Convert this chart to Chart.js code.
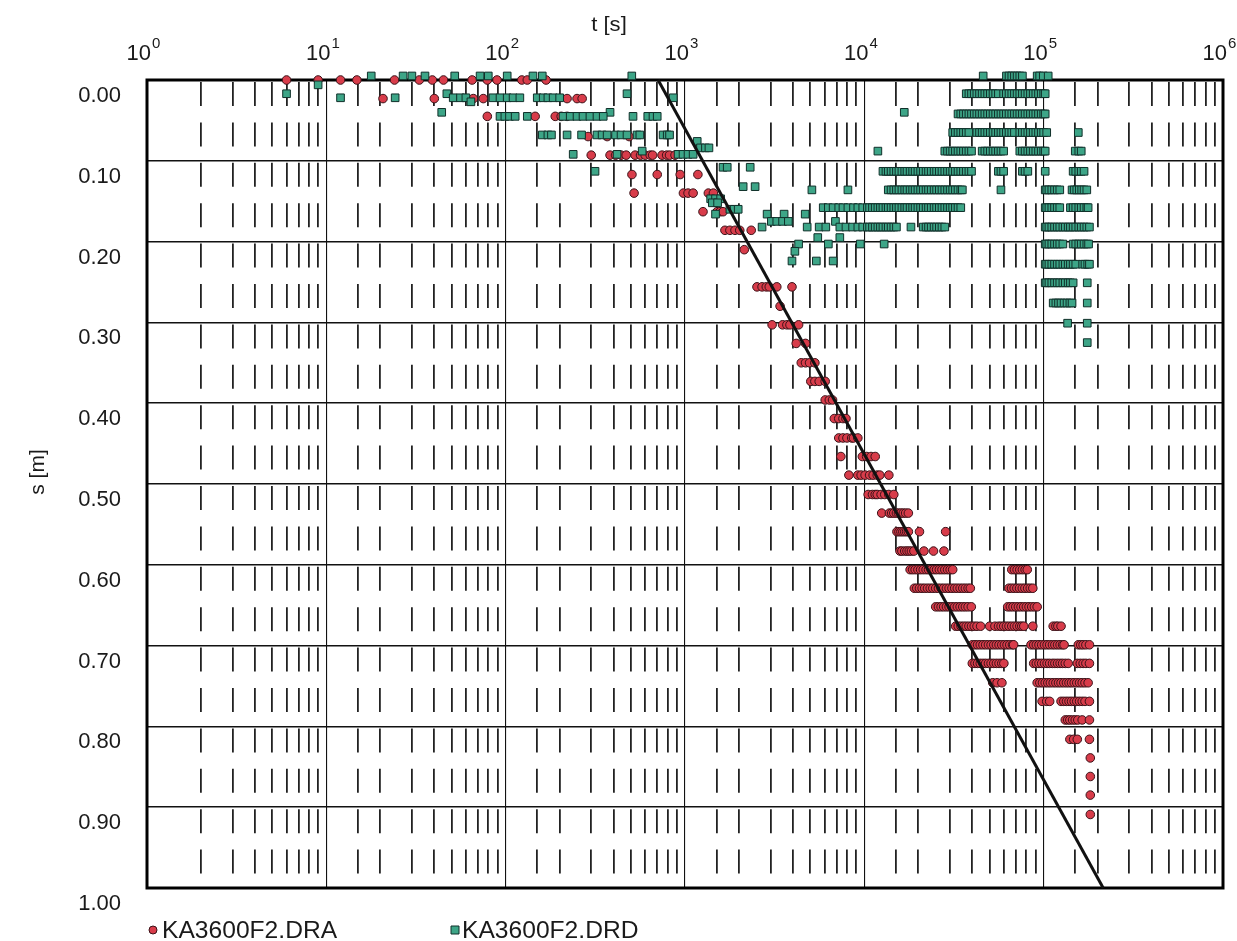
<!DOCTYPE html>
<html>
<head>
<meta charset="utf-8">
<title>KA3600F2 drawdown</title>
<script src="https://cdn.jsdelivr.net/npm/chart.js@4.4.0/dist/chart.umd.min.js"></script>
<style>
  html, body { margin: 0; padding: 0; background: #ffffff; }
  #wrap { width: 1237px; height: 941px; position: relative; }
</style>
</head>
<body>
<div id="wrap"><canvas id="chart"></canvas></div>
<script>
// ---- axis text -------------------------------------------------------
const xTitle = 't [s]';
const yTitle = 's [m]';
const xExponents = [0, 1, 2, 3, 4, 5, 6];
const yTickValues = [0, 0.1, 0.2, 0.3, 0.4, 0.5, 0.6, 0.7, 0.8, 0.9, 1.0];
const yTickLabels = ['0.00', '0.10', '0.20', '0.30', '0.40', '0.50', '0.60', '0.70', '0.80', '0.90', '1.00'];

// ---- straight-line fit (semi-log) -------------------------------------
const fitTime = [708, 214800];
const fitDrawdown = [0, 1];

// ---- KA3600F2.DRA : drawdown levels and the times recorded at each ----
const draLevels = [
  0.000, 0.023, 0.045, 0.070, 0.093, 0.117, 0.140, 0.163, 0.186, 0.210,
  0.256, 0.280, 0.303, 0.326, 0.350, 0.373, 0.396, 0.419, 0.443, 0.466,
  0.489, 0.513, 0.536, 0.559, 0.583, 0.606, 0.629, 0.652, 0.676, 0.699,
  0.722, 0.746, 0.769, 0.792, 0.816, 0.839, 0.862, 0.885, 0.909
];
const draTimes = [
  [6, 9, 12, 14.8, 24, 33, 39, 45, 65, 79, 89.5, 123, 132, 168],
  [20.7, 40, 66, 75, 220, 250, 267],
  [79, 146, 189, 204, 220],
  [288, 368, 488],
  [300, 382, 410, 440, 470, 527, 565, 600, 640, 660, 745, 790, 820, 880],
  [506, 700, 940, 1180],
  [520, 980, 1040, 1110, 1350, 1440],
  [1260, 1510, 1570, 1630],
  [1670, 1780, 1900, 2020, 2340],
  [2140],
  [2520, 2690, 2840, 2950, 3250, 3950],
  [3390],
  [3060, 3500, 3700, 3850, 4300],
  [4170, 4700],
  [4450, 4700, 4950, 5300],
  [5030, 5300, 5600, 6050],
  [6050, 6380, 6650],
  [6800, 7200, 7600, 7900],
  [7200, 7600, 8000, 8500, 8700, 9200],
  [7400, 9750, 10300, 10900, 11500],
  [8200, 9200, 9600, 10100, 10700, 11200, 11800, 12200, 13700],
  [10500, 11100, 11500, 11800, 12400, 13000, 13700, 14600],
  [12500, 13800, 14200, 14600, 15100, 15500, 16000, 16500, 17000, 17600],
  [15200, 15600, 16000, 16400, 16800, 17200, 17600, 20300, 28400],
  [15800, 16200, 16800, 17300, 17800, 18300, 18900, 21500, 24300, 27800],
  [18000, 18600, 19200, 19900, 20600, 21300, 22100, 22800, 23600, 24500, 25300, 26200, 27100, 28100, 29100, 30100, 31100,
   66400, 68700, 71100, 73600, 76100, 78800, 81000],
  [19000, 19600, 20300, 21000, 21700, 22500, 23300, 24100, 25000, 25900, 26800, 27700, 28700, 29700, 30800, 31900, 33000,
   34200, 35400, 36600, 37900, 39000, 64000, 66200, 68500, 70900, 73400, 76000, 78600, 81400, 84200, 87000],
  [25000, 25900, 26800, 27700, 28700, 29700, 30800, 31900, 33000, 34200, 35400, 36600, 37900, 39500,
   63000, 65200, 67500, 69900, 72300, 74800, 77400, 80100, 82900, 85800, 88800, 92000],
  [32300, 33400, 34600, 35800, 37000, 38300, 39600, 41000, 42500, 44500, 50000, 53500,
   56000, 57900, 59900, 62000, 64100, 66400, 68700, 71100, 73600, 75500, 77500, 87000, 113000, 117000, 120000, 125000],
  [40000, 41400, 42800, 44300, 45900, 47500, 49200, 50900, 52700, 54500, 56400, 58400, 60400, 62500, 64700, 67000, 68000,
   85000, 88000, 91000, 94200, 97500, 101000, 104500, 108000, 112000, 115500, 119500, 123500, 127500, 130000,
   156000, 161000, 166000, 172000, 180000],
  [40000, 41400, 42800, 44300, 45900, 47500, 49200, 50900, 52700, 54500, 56400, 58400, 60000,
   88000, 91000, 94200, 97500, 101000, 104500, 108000, 112000, 115500, 119500, 123500, 127500, 132000, 137000,
   154000, 160000, 166000, 172000, 180000],
  [52000, 55000, 58500, 92000, 95200, 98500, 102000, 105500, 109000, 113000, 117000, 121000, 125000, 129500,
   134000, 138500, 143000, 148000, 153000, 158500, 164000, 170000, 177000],
  [98000, 104000, 108000, 125000, 129500, 134000, 138500, 143000, 148000, 153000, 158500, 164000, 170000, 180000],
  [132000, 136000, 140000, 145000, 150000, 155000, 164000, 180000],
  [140000, 147000, 154000, 180000],
  [182000],
  [182000],
  [182000],
  [182000]
];

// ---- KA3600F2.DRD : drawdown levels and the times recorded at each ----
const drdLevels = [
  -0.005, 0.006, 0.017, 0.022, 0.027, 0.040, 0.042, 0.045, 0.065, 0.068,
  0.076, 0.084, 0.088, 0.092, 0.108, 0.113, 0.132, 0.136, 0.147, 0.152,
  0.158, 0.160, 0.166, 0.175, 0.182, 0.195, 0.203, 0.212, 0.224, 0.228,
  0.251, 0.276, 0.301, 0.325
];
const drdTimes = [
  [17.8, 26.8, 30, 35.5, 52, 72, 80, 102, 142, 160, 505, 46000, 62000, 64100, 66400, 68700, 71100, 73600, 76100,
   92000, 95000, 99500, 106000],
  [9],
  [6, 47, 475, 37000, 38300, 39600, 41000, 42400, 43900, 45400, 47000, 48700, 50400, 52200, 54000, 55900,
   59800, 61900, 64100, 66400, 68700, 71100, 73600, 76100, 78800, 81600, 84400, 87400, 90400, 93600, 96900, 100000, 102000],
  [12, 24.2, 51, 56, 60, 85, 93, 102, 110, 120, 150, 162, 172, 184, 200, 860],
  [64],
  [44, 382, 16700],
  [33300, 34500, 35700, 37000, 38300, 39600, 41000, 42400, 43900, 45400, 47000, 48700, 50400, 52200, 54000, 55900,
   57800, 59800, 61900, 64100, 66400, 68700, 71100, 73600, 76100, 78800, 81600, 84400, 87400, 90400, 93600, 96900, 100000, 102000],
  [93, 99, 105, 113, 132, 209, 229, 250, 270, 295, 323, 350, 513, 620, 663, 700],
  [31100, 32200, 33300, 34500, 35700, 37000, 38300, 42400, 43900, 45400, 47000, 48700, 50400, 52200, 54000, 55900,
   57800, 59800, 61900, 64100, 66400, 68700, 73600, 76100, 78800, 81600, 84400, 87400, 90400, 93600, 96900, 100000, 104000, 156000],
  [160, 172, 180, 220, 265, 323, 345, 368, 410, 440, 475, 540, 560, 755, 796, 820],
  [1170],
  [1220, 1300, 1360],
  [577, 11900, 28100, 29100, 30100, 31100, 32200, 33300, 34500, 35700, 37000, 38300, 39600, 45400, 47000, 48700, 50400,
   52200, 54000, 55900, 57800, 59800, 73600, 76100, 78800, 81600, 84400, 87400, 90400, 93600, 96900, 100000, 102000,
   150000, 157000, 162000],
  [238, 418, 915, 975, 1040, 1110],
  [1630, 1720, 2310],
  [315, 12700, 13200, 13600, 14100, 14600, 15100, 15600, 16200, 16800, 17300, 18000, 18600, 19200, 19900, 20600, 21300,
   22100, 22800, 23600, 24500, 25300, 26200, 27100, 28100, 29100, 30100, 31100, 32200, 33300, 34500, 35700, 37000, 38300,
   39600, 55900, 57800, 59800, 76100, 78800, 81600, 102000, 146000, 151000, 157000, 162000, 168000],
  [2110, 2460],
  [5100, 8100, 13600, 14100, 14600, 15100, 15600, 16200, 16800, 17300, 18000, 18600, 19200, 19900, 20600, 21300, 22100,
   22800, 23600, 24500, 25300, 26200, 27100, 28100, 29100, 30100, 31100, 32200, 33300, 34500, 35200, 57800,
   102000, 104000, 107000, 111000, 115000, 119000, 123000, 144000, 148000, 153000, 158000, 163000, 168000, 174000],
  [1390, 1480, 1580],
  [1420, 1520],
  [5900, 6300, 6700, 7200, 7600, 8100, 8700, 9200, 9800, 10400, 10700, 11100, 11500, 11900, 12300, 12700, 13200, 13600,
   14100, 14600, 15100, 15600, 16200, 16800, 17300, 18000, 18600, 19200, 19900, 20600, 21300, 22100, 22800, 23600, 24500,
   25300, 26200, 27100, 28100, 29100, 30100, 31100, 32200, 33300, 34500, 102000, 104000, 107000, 111000, 115000, 119000,
   123000, 141000, 146000, 151000, 157000, 162000, 168000, 174000, 177000],
  [1780, 1880, 1980],
  [1480, 2870, 3570, 4680],
  [3030, 3250, 3500, 3770, 6900],
  [2690, 4800, 5600, 6100, 7300, 7900, 8600, 9200, 9800, 10400, 10700, 11100, 11500, 11900, 12300, 12700, 13200, 13600,
   14100, 14600, 15100, 18200, 21300, 22100, 22800, 23600, 24500, 25300, 26200, 27100, 28100, 102000, 104000, 107000,
   111000, 115000, 119000, 123000, 128000, 132000, 137000, 141000, 146000, 151000, 157000, 162000, 168000, 174000, 180000],
  [5500, 7300],
  [4300, 6300, 9500, 12900, 102000, 104000, 107000, 111000, 115000, 119000, 123000, 128000, 146000, 151000, 157000,
   162000, 168000, 174000, 178000],
  [4100],
  [3950, 5400, 6700],
  [102000, 104000, 107000, 111000, 115000, 119000, 123000, 128000, 132000, 137000, 141000, 146000, 151000,
   165000, 170000, 176000, 180000],
  [102000, 104000, 107000, 111000, 115000, 119000, 123000, 128000, 132000, 137000, 141000, 146000, 175000],
  [113000, 117000, 121000, 125000, 130000, 135000, 140000, 144000, 175000],
  [136000, 175000],
  [175000]
];

// ---- helpers ----------------------------------------------------------
const FONT = '"Liberation Sans", Arial, Helvetica, sans-serif';

function toPoints(levels, times) {
  const pts = [];
  levels.forEach((s, i) => times[i].forEach(t => pts.push({ x: t, y: s })));
  return pts;
}
function isDecade(v) {
  const l = Math.log10(v);
  return Math.abs(l - Math.round(l)) < 1e-9;
}
// text drawn with a slight horizontal stretch, like the printed lettering
function wideText(ctx, text, x, y, sx, align) {
  ctx.save();
  ctx.translate(x, y);
  ctx.scale(sx, 1);
  ctx.textAlign = align;
  ctx.fillText(text, 0, 0);
  ctx.restore();
}

// frame, decade labels, axis titles and legend
const decorations = {
  id: 'decorations',
  beforeDatasetsDraw(chart) {
    const { ctx, chartArea: a } = chart;
    ctx.save();
    ctx.strokeStyle = '#000';
    ctx.lineWidth = 3;
    ctx.strokeRect(a.left, a.top, a.right - a.left, a.bottom - a.top);
    ctx.restore();
  },
  afterDraw(chart) {
    const ctx = chart.ctx;
    const xs = chart.scales.x;
    ctx.save();
    ctx.fillStyle = '#1a1a1a';
    ctx.textBaseline = 'alphabetic';
    ctx.textAlign = 'left';

    // decade labels "10" with raised exponent
    xExponents.forEach(e => {
      const px = xs.getPixelForValue(Math.pow(10, e));
      ctx.font = '22px ' + FONT;
      const wb = ctx.measureText('10').width;
      ctx.font = '15px ' + FONT;
      const we = ctx.measureText(String(e)).width;
      const x0 = px - 4 - (wb + we) / 2;
      ctx.font = '22px ' + FONT;
      ctx.fillText('10', x0, 60);
      ctx.font = '15px ' + FONT;
      ctx.fillText(String(e), x0 + wb + 1, 48);
    });

    // axis titles
    ctx.font = '21px ' + FONT;
    wideText(ctx, xTitle, 609, 31, 1.05, 'center');
    ctx.save();
    ctx.translate(44, 472);
    ctx.rotate(-Math.PI / 2);
    ctx.textAlign = 'center';
    ctx.fillText(yTitle, 0, 0);
    ctx.restore();

    // legend (bottom left)
    const dra = chart.data.datasets[2];
    const drd = chart.data.datasets[1];
    const items = [
      { ds: dra, mx: 153, tx: 162 },
      { ds: drd, mx: 455, tx: 462 }
    ];
    const my = 930;
    items.forEach(it => {
      ctx.fillStyle = it.ds.backgroundColor;
      ctx.strokeStyle = it.ds.borderColor;
      ctx.lineWidth = 1;
      ctx.beginPath();
      if (it.ds.pointStyle === 'rect') {
        ctx.rect(it.mx - 4, my - 4, 8, 8);
      } else {
        ctx.arc(it.mx, my, 4, 0, Math.PI * 2);
      }
      ctx.fill();
      ctx.stroke();
      ctx.fillStyle = '#1a1a1a';
      ctx.font = '23px ' + FONT;
      wideText(ctx, it.ds.label, it.tx, 938, 1.07, 'left');
    });
    ctx.restore();
  }
};

const ctx = document.getElementById('chart').getContext('2d');
new Chart(ctx, {
  type: 'scatter',
  data: {
    datasets: [
      {
        label: 'fit',
        data: fitTime.map((t, i) => ({ x: t, y: fitDrawdown[i] })),
        showLine: true,
        borderColor: '#111111',
        borderWidth: 3,
        pointRadius: 0,
        clip: false,
        order: 0
      },
      {
        label: 'KA3600F2.DRD',
        data: toPoints(drdLevels, drdTimes),
        pointStyle: 'rect',
        pointRadius: 5.4,
        backgroundColor: '#3da587',
        borderColor: '#10302a',
        borderWidth: 1,
        clip: false,
        order: 1
      },
      {
        label: 'KA3600F2.DRA',
        data: toPoints(draLevels, draTimes),
        pointStyle: 'circle',
        pointRadius: 4.3,
        backgroundColor: '#d83c4a',
        borderColor: '#3a1218',
        borderWidth: 1,
        clip: false,
        order: 2
      }
    ]
  },
  options: {
    responsive: true,
    maintainAspectRatio: false,
    animation: false,
    events: [],
    layout: { padding: { left: 0, top: 0, right: 14, bottom: 53 } },
    plugins: { legend: { display: false }, tooltip: { enabled: false } },
    scales: {
      x: {
        type: 'logarithmic',
        position: 'top',
        min: 1,
        max: 1e6,
        ticks: { display: false },
        border: { display: false },
        grid: {
          drawTicks: false,
          lineWidth: 1.1,
          color: c => (c.tick && isDecade(c.tick.value)) ? '#111111' : 'rgba(0,0,0,0)'
        },
        afterFit: s => { s.height = 80; }
      },
      xMinor: {
        type: 'logarithmic',
        position: 'top',
        min: 1,
        max: 1e6,
        ticks: { display: false },
        border: { display: false, dash: [24, 16.4], dashOffset: 38.4 },
        grid: {
          drawTicks: false,
          lineWidth: 1.8,
          color: c => (c.tick && !isDecade(c.tick.value)) ? '#222222' : 'rgba(0,0,0,0)'
        },
        afterFit: s => { s.height = 0; }
      },
      y: {
        type: 'linear',
        reverse: true,
        min: 0,
        max: 1,
        afterBuildTicks: s => { s.ticks = yTickValues.map(v => ({ value: v })); },
        ticks: {
          callback: (v, i) => yTickLabels[i],
          font: { family: FONT, size: 22 },
          color: '#1a1a1a',
          padding: 26,
          labelOffset: 16
        },
        border: { display: false },
        grid: { drawTicks: false, lineWidth: 1.6, color: '#111111' },
        afterFit: s => { s.width = 147; }
      }
    }
  },
  plugins: [decorations]
});
</script>
</body>
</html>
